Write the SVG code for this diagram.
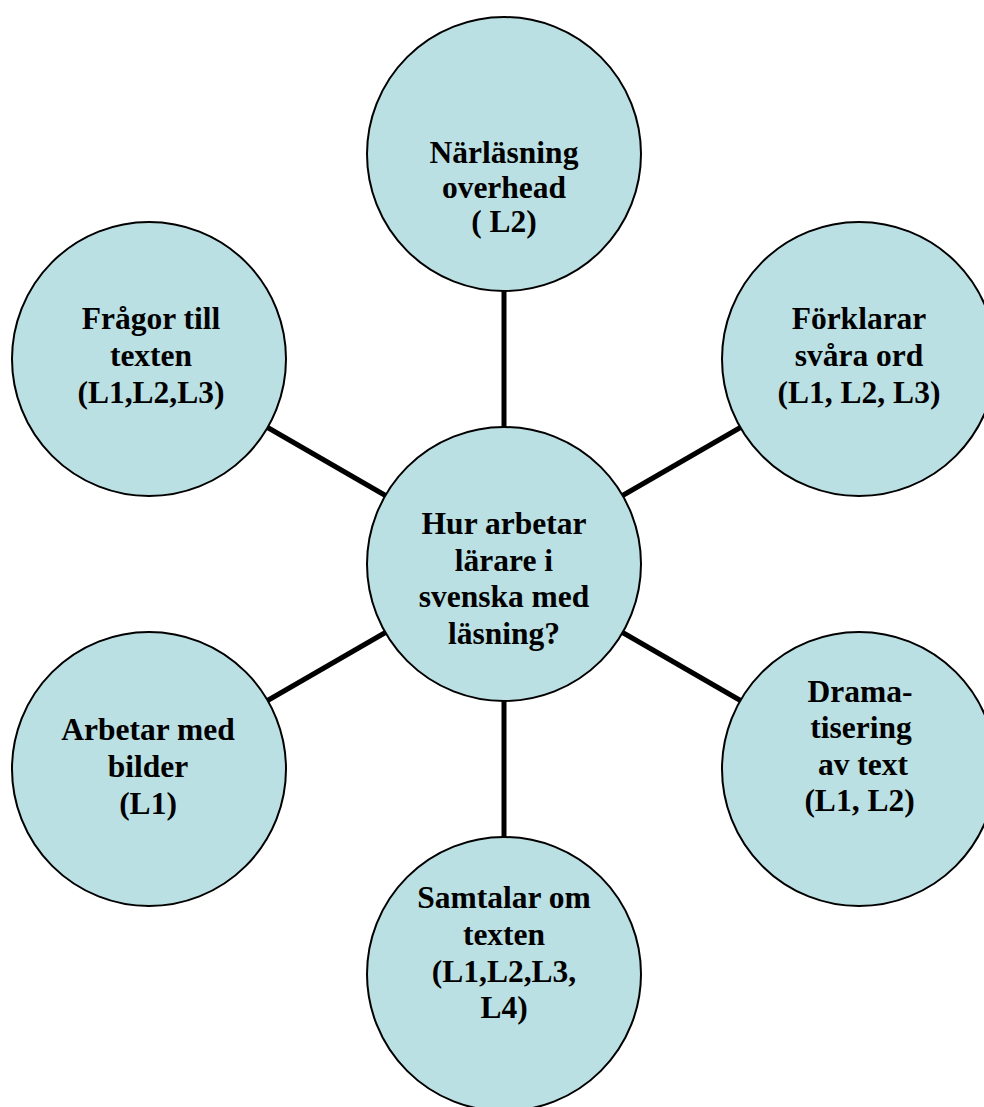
<svg xmlns="http://www.w3.org/2000/svg" width="984" height="1107" viewBox="0 0 984 1107">
  <style>
    .node circle { fill: #BBE0E3; stroke: #000; stroke-width: 2; }
    .node text { font-family: "Liberation Serif", "Times New Roman", serif; font-weight: bold; font-size: 31.5px; fill: #000; text-anchor: middle; }
    .links line { stroke: #000; stroke-width: 5; }
  </style>
  <rect width="984" height="1107" fill="#fff"/>

  <!-- spokes from the hub to each surrounding circle -->
  <g id="connectors" class="links">
    <line x1="504" y1="427" x2="504" y2="291"/>
    <line x1="622.6" y1="495.5" x2="740.4" y2="427.5"/>
    <line x1="622.6" y1="632.5" x2="740.4" y2="700.5"/>
    <line x1="504" y1="701" x2="504" y2="837"/>
    <line x1="385.4" y1="632.5" x2="267.6" y2="700.5"/>
    <line x1="385.4" y1="495.5" x2="267.6" y2="427.5"/>
  </g>

  <g id="hub" class="node">
    <circle cx="504" cy="564" r="137"/>
    <text x="504" y="534">Hur arbetar</text>
    <text x="504" y="570.5">lärare i</text>
    <text x="504" y="607">svenska med</text>
    <text x="504" y="643.5">läsning?</text>
  </g>

  <g id="narlasning" class="node">
    <circle cx="504" cy="154" r="137"/>
    <text x="504" y="163">Närläsning</text>
    <text x="504" y="197.5">overhead</text>
    <text x="504" y="232">( L2)</text>
  </g>

  <g id="forklarar" class="node">
    <circle cx="859" cy="359" r="137"/>
    <text x="859" y="329">Förklarar</text>
    <text x="859" y="366">svåra ord</text>
    <text x="859" y="403">(L1, L2, L3)</text>
  </g>

  <g id="dramatisering" class="node">
    <circle cx="859" cy="769" r="137"/>
    <text x="860" y="701.5">Drama-</text>
    <text x="861" y="738">tisering</text>
    <text x="863" y="774.5">av text</text>
    <text x="859.5" y="811">(L1, L2)</text>
  </g>

  <g id="samtalar" class="node">
    <circle cx="504" cy="974" r="137"/>
    <text x="504" y="908">Samtalar om</text>
    <text x="504" y="944.5">texten</text>
    <text x="504" y="981.5">(L1,L2,L3,</text>
    <text x="504" y="1018">L4)</text>
  </g>

  <g id="bilder" class="node">
    <circle cx="149" cy="769" r="137"/>
    <text x="148" y="739.5">Arbetar med</text>
    <text x="148" y="777">bilder</text>
    <text x="148" y="814">(L1)</text>
  </g>

  <g id="fragor" class="node">
    <circle cx="149" cy="359" r="137"/>
    <text x="151" y="329">Frågor till</text>
    <text x="151" y="366">texten</text>
    <text x="151" y="403">(L1,L2,L3)</text>
  </g>
</svg>
